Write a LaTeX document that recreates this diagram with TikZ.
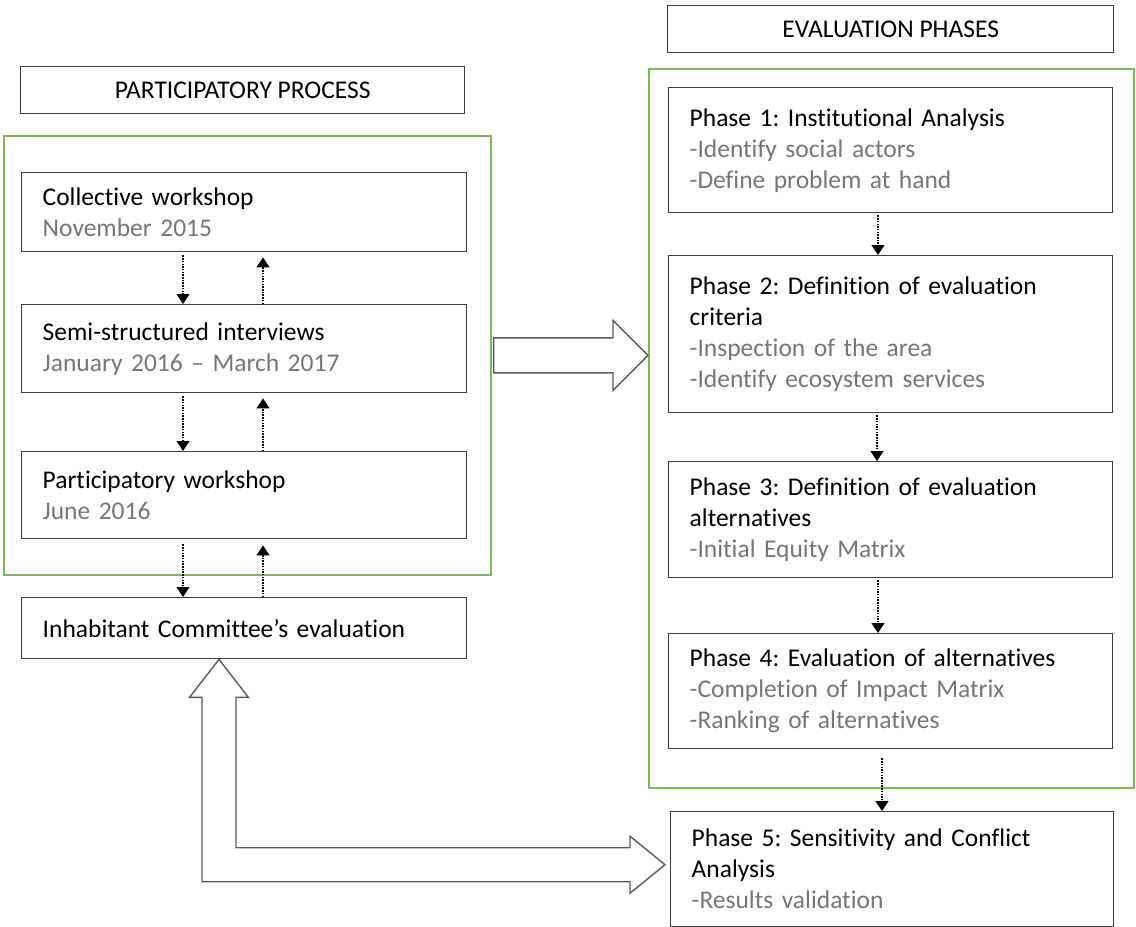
\documentclass[tikz,border=0pt]{standalone}
\usepackage{fontspec}
\setmainfont{Carlito}[Ligatures=NoCommon]
\usetikzlibrary{arrows.meta,calc}

\definecolor{boxline}{RGB}{60,60,60}
\definecolor{framegreen}{RGB}{128,180,98}
\definecolor{subgray}{RGB}{118,118,118}
\definecolor{blockline}{RGB}{90,90,90}
\newcommand{\subtxt}[1]{{\color{subgray}#1}}
\frenchspacing

\begin{document}
\begin{tikzpicture}[x=1pt,y=-1pt,font=\fontsize{25.5}{31}\selectfont]
  \tikzset{box/.style={draw=boxline,line width=1.4pt,fill=white,anchor=north west,align=left,inner xsep=21pt,inner ysep=0pt}}
  \tikzset{head/.style={draw=boxline,line width=1.4pt,anchor=north west,align=center,inner sep=0pt}}
  \tikzset{frame/.style={draw=framegreen,line width=1.6pt,anchor=north west,inner sep=0pt}}
  \tikzset{flow/.style={draw=black,line width=1.1pt,dash pattern=on 1.5pt off 1.2pt,-{Triangle[width=13pt,length=10pt]}}}
  \tikzset{block/.style={draw=blockline,line width=1.4pt,fill=white,line join=miter}}

  \useasboundingbox (0,0) rectangle (1136,927);

  % green frames
  \node[frame,minimum width=487pt,minimum height=439pt] (partFrame) at (3,135) {};
  \node[frame,minimum width=485pt,minimum height=719pt] (evalFrame) at (648,68) {};

  % headings
  \node[head,minimum width=444pt,minimum height=47pt] (partHead) at (20,66) {PARTICIPATORY PROCESS};
  \node[head,minimum width=446pt,minimum height=47pt] (evalHead) at (667,5) {EVALUATION PHASES};

  % participatory process
  \node[box,text width=403pt,minimum height=79pt] (coll) at (21,172) {Collective workshop\\\subtxt{November 2015}};
  \node[box,text width=403pt,minimum height=88pt] (semi) at (21,304) {Semi-structured interviews\\\subtxt{January 2016 – March 2017}};
  \node[box,text width=403pt,minimum height=87pt] (part) at (21,451) {Participatory workshop\\\subtxt{June 2016}};
  \node[box,text width=403pt,minimum height=61pt] (inh) at (21,597) {Inhabitant Committee’s evaluation};

  % evaluation phases
  \node[box,text width=402pt,minimum height=125pt] (phOne) at (668,87) {Phase 1: Institutional Analysis\\\subtxt{-Identify social actors}\\\subtxt{-Define problem at hand}};
  \node[box,text width=402pt,minimum height=157pt] (phTwo) at (668,255) {Phase 2: Definition of evaluation\\criteria\\\subtxt{-Inspection of the area}\\\subtxt{-Identify ecosystem services}};
  \node[box,text width=402pt,minimum height=116pt] (phThree) at (668,461) {Phase 3: Definition of evaluation\\alternatives\\\subtxt{-Initial Equity Matrix}};
  \node[box,text width=402pt,minimum height=115pt] (phFour) at (668,633) {Phase 4: Evaluation of alternatives\\\subtxt{-Completion of Impact Matrix}\\\subtxt{-Ranking of alternatives}};
  \node[box,text width=401pt,minimum height=115pt] (phFive) at (670,811) {Phase 5: Sensitivity and Conflict\\Analysis\\\subtxt{-Results validation}};

  % dotted links, left column
  \draw[flow,shorten <=3pt] ([xshift=162pt]coll.south west) -- ([xshift=162pt]semi.north west);
  \draw[flow,shorten >=5pt] ([xshift=242pt]semi.north west) -- ([xshift=242pt]coll.south west);
  \draw[flow,shorten <=3pt] ([xshift=162pt]semi.south west) -- ([xshift=162pt]part.north west);
  \draw[flow,shorten >=5pt] ([xshift=242pt]part.north west) -- ([xshift=242pt]semi.south west);
  \draw[flow,shorten <=5pt] ([xshift=162pt]part.south west) -- ([xshift=162pt]inh.north west);
  \draw[flow,shorten >=6pt] ([xshift=242pt]inh.north west) -- ([xshift=242pt]part.south west);

  % dotted links, right column
  \draw[flow,shorten <=2pt] ([xshift=210pt]phOne.south west) -- ([xshift=210pt]phTwo.north west);
  \draw[flow,shorten <=2pt] ([xshift=209pt]phTwo.south west) -- ([xshift=209pt]phThree.north west);
  \draw[flow,shorten <=2pt] ([xshift=210pt]phThree.south west) -- ([xshift=210pt]phFour.north west);
  \draw[flow,shorten <=9pt] ([xshift=214pt]phFour.south west) -- ([xshift=212pt]phFive.north west);

  % block arrow between the frames
  \coordinate (pTail) at (partFrame.east);
  \coordinate (pTip) at (evalFrame.west |- pTail);
  \draw[block] ($(pTail)+(2,-17.5)$) -- ($(pTip)+(-35,-17.5)$) -- ($(pTip)+(-35,-35)$) -- (pTip)
    -- ($(pTip)+(-35,35)$) -- ($(pTip)+(-35,17.5)$) -- ($(pTail)+(2,17.5)$) -- cycle;

  % double block arrow, committee <-> phase 5
  \coordinate (upTip) at ([xshift=198pt]inh.south west);
  \coordinate (sideTip) at ([shift={(-5pt,4.5pt)}]phFive.west);
  \coordinate (upR) at ($(upTip)+(17,0)$);
  \coordinate (upL) at ($(upTip)+(-17,0)$);
  \coordinate (sideU) at ($(sideTip)+(0,-17)$);
  \coordinate (sideD) at ($(sideTip)+(0,17)$);
  \draw[block] (upTip) -- ++(29.5,38) -- ($(upTip)+(17,38)$) -- (upR |- sideU)
    -- ($(sideTip)+(-35,-17)$) -- ($(sideTip)+(-35,-28.5)$) -- (sideTip)
    -- ($(sideTip)+(-35,28.5)$) -- ($(sideTip)+(-35,17)$) -- (upL |- sideD)
    -- ($(upTip)+(-17,38)$) -- ($(upTip)+(-29.5,38)$) -- cycle;
\end{tikzpicture}
\end{document}
